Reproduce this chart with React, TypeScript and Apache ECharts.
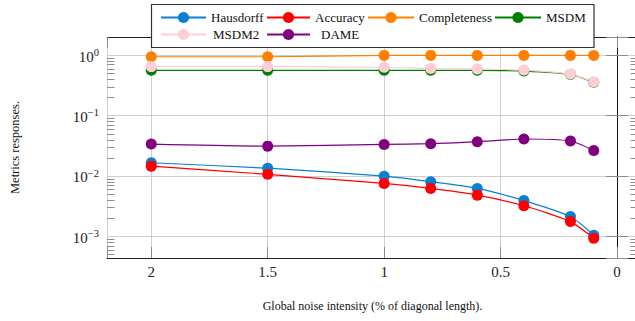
import React, { useEffect, useRef } from 'react';
import * as echarts from 'echarts';

// ---- data ----
const noise = [2, 1.5, 1, 0.8, 0.6, 0.4, 0.2, 0.1];
const hausdorff = [0.0165, 0.0134, 0.0099, 0.008, 0.0062, 0.0039, 0.00212, 0.00104];
const accuracy = [0.0145, 0.0106, 0.0075, 0.0062, 0.0048, 0.0032, 0.00175, 0.00093];
const completeness = [0.94, 0.94, 0.99, 0.99, 0.99, 0.99, 0.99, 0.99];
const msdm = [0.56, 0.56, 0.56, 0.56, 0.56, 0.545, 0.48, 0.355];
const msdm2 = [0.645, 0.645, 0.63, 0.6, 0.59, 0.566, 0.486, 0.358];
const dame = [0.0336, 0.0311, 0.0332, 0.0341, 0.0368, 0.0408, 0.0378, 0.0263];
const xTicks = [0, 0.5, 1, 1.5, 2];
const seriesNames = ['Hausdorff', 'Accuracy', 'Completeness', 'MSDM', 'MSDM2', 'DAME'];
const seriesValues = [hausdorff, accuracy, completeness, msdm, msdm2, dame];
const seriesColors = ['#0c7fd1', '#ff0000', '#ff8000', '#008000', '#ffcdd6', '#800080'];

const X_MIN = -0.09;
const X_MAX = 2.19;
const Y_MIN = Math.pow(10, -3.36);
const Y_MAX = Math.pow(10, 0.3);
const FONT = '"Liberation Serif", "DejaVu Serif", serif';

const minorVals: number[] = [];
for (let k = -4; k <= 0; k++) {
  for (let m = 2; m <= 9; m++) {
    const v = m * Math.pow(10, k);
    if (v > Y_MIN && v < Y_MAX) minorVals.push(v);
  }
}

// legend layout: [left, top, itemWidth, textPadLeft]
const legendLayout: [number, number, number, number][] = [
  [160, 11, 45, 0],
  [266, 11, 43, 0],
  [367, 11, 46, 0],
  [494, 11, 46, 0],
  [160, 28, 45, 2],
  [266, 28, 43, 6],
];

export default function App() {
  const ref = useRef<HTMLDivElement>(null);
  useEffect(() => {
    document.body.style.margin = '0';
    if (!ref.current) return;
    const chart = echarts.init(ref.current, undefined, { renderer: 'svg' });
    const tickColor = '#8c8c8c';
    const gridColor = '#cfcfcf';
    const option: any = {
      animation: false,
      backgroundColor: '#ffffff',
      grid: { left: 107, top: 37, width: 531, height: 221, containLabel: false, outerBoundsMode: 'none' },
      xAxis: [
        {
          type: 'value',
          position: 'bottom',
          min: X_MIN,
          max: X_MAX,
          inverse: true,
          name: 'Global noise intensity (% of diagonal length).',
          nameLocation: 'middle',
          nameGap: 42,
          nameTextStyle: { fontFamily: FONT, fontSize: 12, color: '#111' },
          axisLine: { show: true, lineStyle: { color: '#222', width: 1 } },
          axisTick: { show: true, inside: true, length: 11, lineStyle: { color: tickColor } },
          splitLine: { show: true, lineStyle: { color: gridColor, width: 1 } },
          axisLabel: {
            margin: 6,
            fontFamily: FONT,
            fontSize: 15,
            color: '#222',
            formatter: (v: number) => (xTicks.some((t) => Math.abs(t - v) < 1e-9) ? String(v) : ''),
          },
        },
        {
          type: 'value',
          position: 'top',
          min: X_MIN,
          max: X_MAX,
          inverse: true,
          axisLine: { show: true, lineStyle: { color: '#222', width: 1 } },
          axisTick: { show: true, inside: true, length: 11, lineStyle: { color: tickColor } },
          splitLine: { show: false },
          axisLabel: { show: false },
        },
      ],
      yAxis: [
        {
          type: 'log',
          logBase: 10,
          position: 'left',
          min: Y_MIN,
          max: Y_MAX,
          name: 'Metrics responses.',
          nameLocation: 'middle',
          nameGap: 86,
          nameRotate: 90,
          nameTextStyle: { fontFamily: FONT, fontSize: 12.5, color: '#111' },
          axisLine: { show: true, lineStyle: { color: '#111', width: 1 } },
          axisTick: { show: true, inside: true, length: 11, lineStyle: { color: tickColor } },
          splitLine: { show: true, lineStyle: { color: gridColor, width: 1 } },
          axisLabel: {
            margin: 8,
            formatter: (v: number) => {
              const l = Math.log10(v);
              const e = Math.round(l);
              if (Math.abs(l - e) > 1e-6) return '';
              return `{b|10}{s|${e < 0 ? '\u2212' + -e : e}}`;
            },
            rich: {
              b: { fontFamily: FONT, fontSize: 15, color: '#222', lineHeight: 16, verticalAlign: 'middle', padding: [3, 0, 0, 0] },
              s: { fontFamily: FONT, fontSize: 10.5, color: '#222', lineHeight: 10, verticalAlign: 'top' },
            },
          },
        },
        {
          type: 'log',
          logBase: 10,
          position: 'right',
          min: Y_MIN,
          max: Y_MAX,
          axisLine: { show: true, lineStyle: { color: '#111', width: 1 } },
          axisTick: { show: true, inside: true, length: 11, lineStyle: { color: tickColor } },
          splitLine: { show: false },
          axisLabel: { show: false },
        },
      ],
      legend: seriesNames.map((name, i) => ({
        data: [name],
        left: legendLayout[i][0],
        top: legendLayout[i][1],
        itemWidth: legendLayout[i][2],
        itemHeight: 14,
        padding: 0,
        selectedMode: false,
        z: 10,
        textStyle: {
          fontFamily: FONT,
          fontSize: 13,
          color: '#111',
          padding: [0, 0, 0, legendLayout[i][3]],
        },
      })),
      graphic: {
        elements: [
          {
            type: 'rect',
            z: 8,
            shape: { x: 151.5, y: 4.5, width: 442.5, height: 43 },
            style: { fill: '#ffffff', stroke: '#333333', lineWidth: 1.2 },
          },
        ],
      },
      series: [
        {
          type: 'custom',
          silent: true,
          xAxisIndex: 0,
          yAxisIndex: 0,
          z: 1,
          clip: false,
          data: minorVals.map((v) => [1, v]),
          renderItem: (params: any, api: any) => {
            const cs = params.coordSys;
            const y = Math.round(api.coord([api.value(0), api.value(1)])[1]) + 0.5;
            const L = 7.5;
            const st = { stroke: tickColor, lineWidth: 1 };
            return {
              type: 'group',
              children: [
                { type: 'line', shape: { x1: cs.x, y1: y, x2: cs.x + L, y2: y }, style: st },
                { type: 'line', shape: { x1: cs.x + cs.width - L, y1: y, x2: cs.x + cs.width, y2: y }, style: st },
              ],
            };
          },
        },
        ...seriesNames.map((name, i) => ({
          name,
          type: 'line',
          xAxisIndex: 0,
          yAxisIndex: 0,
          data: noise.map((x, j) => [x, seriesValues[i][j]]),
          smooth: 0.2,
          symbol: 'circle',
          symbolSize: 11,
          showSymbol: true,
          z: 2,
          itemStyle: { color: seriesColors[i] },
          lineStyle: { color: seriesColors[i], width: 1.2 },
        })),
      ],
    };
    chart.setOption(option);
    return () => chart.dispose();
  }, []);
  return <div ref={ref} style={{ width: 635, height: 321 }} />;
}
